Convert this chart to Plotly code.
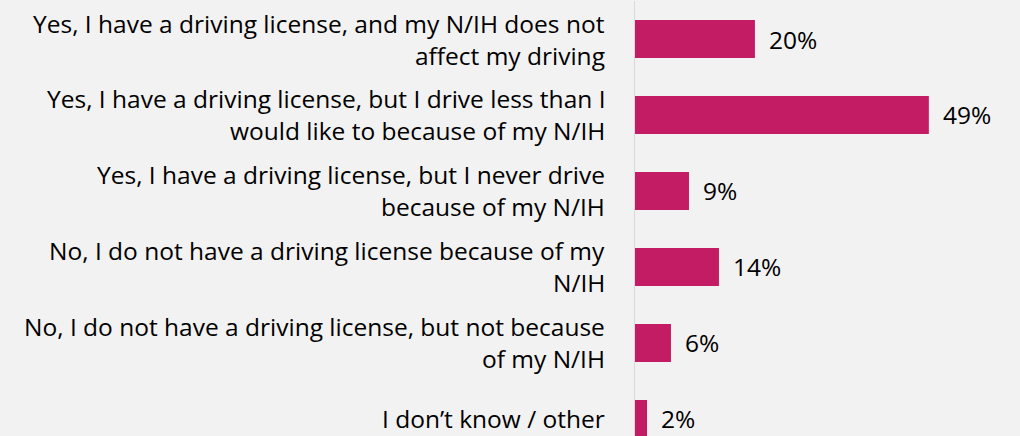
import plotly.graph_objects as go

categories = [
    "Yes, I have a driving license, and my N/IH does not<br>affect my driving",
    "Yes, I have a driving license, but I drive less than I<br>would like to because of my N/IH",
    "Yes, I have a driving license, but I never drive<br>because of my N/IH",
    "No, I do not have a driving license because of my<br>N/IH",
    "No, I do not have a driving license, but not because<br>of my N/IH",
    "I don\u2019t know / other",
]
values = [20, 49, 9, 14, 6, 2]
value_labels = ["20%", "49%", "9%", "14%", "6%", "2%"]

BAR_COLOR = "#c31b64"
BG = "#f2f2f2"
FONT = "Open Sans"
FSIZE = 24.5

fig = go.Figure(
    go.Bar(
        x=values,
        y=list(range(len(categories))),
        orientation="h",
        marker=dict(color=BAR_COLOR, line=dict(width=0)),
        width=0.5,
        hoverinfo="skip",
    )
)

annotations = []
for i, (cat, v, lab) in enumerate(zip(categories, values, value_labels)):
    lines = cat.split("<br>")
    n = len(lines)
    for j, line in enumerate(lines):
        shift = (n - 1) / 2 * 32 - j * 32
        annotations.append(dict(
            x=0, xref="paper", y=i, yref="y",
            text=line, showarrow=False, xanchor="right", yanchor="middle",
            xshift=-28, yshift=shift,
            font=dict(family=FONT, size=FSIZE, color="#000000"),
        ))
    annotations.append(dict(
        x=v, xref="x", y=i, yref="y", text=lab, showarrow=False,
        xanchor="left", yanchor="middle", xshift=12,
        font=dict(family=FONT, size=FSIZE, color="#000000"),
    ))

fig.update_layout(
    width=1020, height=436,
    margin=dict(l=635, r=0, t=1, b=0),
    paper_bgcolor=BG, plot_bgcolor=BG,
    showlegend=False,
    annotations=annotations,
    xaxis=dict(range=[0, 64.2], visible=False, fixedrange=True),
    yaxis=dict(
        range=[5.224, -0.5], showticklabels=False, showgrid=False,
        zeroline=False, showline=True, linecolor="#d9d9d9", linewidth=1.5,
        ticks="", fixedrange=True,
    ),
)

fig.write_html(
    "out.html",
    config={"displayModeBar": False, "staticPlot": True},
    post_script="document.body.style.margin='0';document.body.style.overflow='hidden';",
)
